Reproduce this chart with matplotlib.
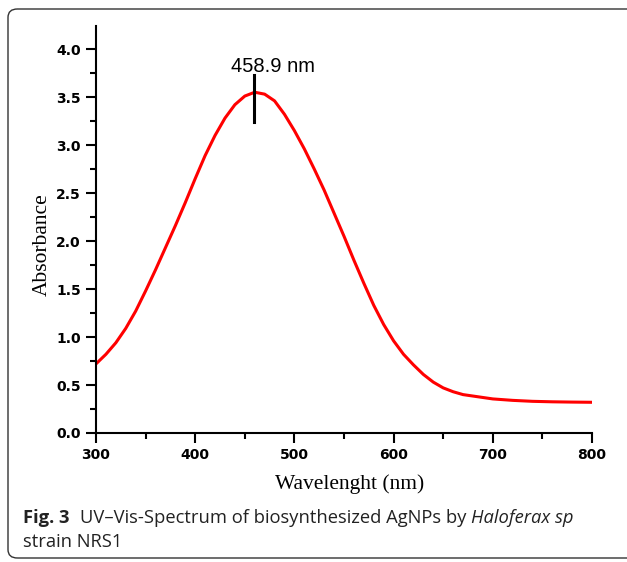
import matplotlib
matplotlib.use("Agg")
import matplotlib.pyplot as plt
from matplotlib.patches import FancyBboxPatch
from matplotlib.ticker import MultipleLocator

# ---- data ----
wavelength = [300, 310, 320, 330, 340, 350, 360, 370, 380, 390, 400, 410, 420,
              430, 440, 450, 460, 470, 480, 490, 500, 510, 520, 530, 540, 550,
              560, 570, 580, 590, 600, 610, 620, 630, 640, 650, 660, 670, 680,
              690, 700, 720, 740, 760, 780, 800]
absorbance = [0.72, 0.82, 0.94, 1.09, 1.27, 1.48, 1.70, 1.93, 2.16, 2.40, 2.65,
              2.89, 3.10, 3.28, 3.42, 3.51, 3.55, 3.53, 3.46, 3.32, 3.15, 2.96,
              2.75, 2.53, 2.29, 2.05, 1.80, 1.56, 1.33, 1.13, 0.96, 0.82, 0.71,
              0.61, 0.53, 0.47, 0.43, 0.40, 0.385, 0.37, 0.355, 0.34, 0.33,
              0.325, 0.322, 0.32]
peak_nm = 458.9
peak_label = "458.9 nm"
peak_marker_range = [3.24, 3.73]
x_ticks = [300, 400, 500, 600, 700, 800]
y_ticks = [0.0, 0.5, 1.0, 1.5, 2.0, 2.5, 3.0, 3.5, 4.0]

W, H = 627, 562
fig = plt.figure(figsize=(W / 100, H / 100), dpi=100)
ax = fig.add_axes([96 / W, 1 - 433 / H, (592 - 96) / W, (433 - 26) / H])

ax.plot(wavelength, absorbance, color="#ff0000", lw=2.2,
        solid_joinstyle="round", solid_capstyle="round")
ax.plot([peak_nm, peak_nm], peak_marker_range, color="black", lw=2.2)
ax.text(peak_nm + 20, 3.76, peak_label, ha="center",
        va="baseline", fontsize=14.5, family="Liberation Sans")

ax.set_xlim(300, 800)
ax.set_ylim(0, 4.24)
ax.set_xticks(x_ticks)
ax.set_yticks(y_ticks)
ax.set_yticklabels([f"{v:.1f}" for v in y_ticks])
ax.xaxis.set_minor_locator(MultipleLocator(50))
ax.yaxis.set_minor_locator(MultipleLocator(0.25))
for s in ["top", "right"]:
    ax.spines[s].set_visible(False)
for s in ["left", "bottom"]:
    ax.spines[s].set_linewidth(1.5)
ax.tick_params(which="major", direction="out", length=7, width=1.5,
               labelsize=10, pad=4)
ax.tick_params(which="minor", direction="out", length=4.5, width=1.5)
for lab in ax.get_xticklabels() + ax.get_yticklabels():
    lab.set_fontweight("bold")
    lab.set_family("DejaVu Sans")

ax.set_xlabel("Wavelenght (nm)", family="Liberation Serif", fontsize=15.5)
ax.set_ylabel("Absorbance", family="Liberation Serif", fontsize=15.5)
ax.xaxis.set_label_coords(0.512, -0.102)
ax.yaxis.set_label_coords(-0.09, 0.463)

# rounded frame around figure + caption
frame = FancyBboxPatch((8 / W, 1 - 558 / H), (640 - 8) / W, (558 - 9) / H,
                       boxstyle="round,pad=0,rounding_size=0.015",
                       transform=fig.transFigure, fill=False,
                       edgecolor="#333333", lw=1.0, clip_on=False)
fig.patches.append(frame)

# caption
cap_kw = dict(family="Open Sans", fontsize=13.2, color="#222222", va="baseline")
fig.canvas.draw()
r = fig.canvas.get_renderer()
x0 = 23 / W
y1 = 1 - 523 / H
t1 = fig.text(x0, y1, "Fig. 3", fontweight="bold", **cap_kw)
bb = t1.get_window_extent(r)
t2 = fig.text(bb.x1 / W + 10 / W, y1,
              "UV\u2013Vis-Spectrum of biosynthesized AgNPs by ", **cap_kw)
bb2 = t2.get_window_extent(r)
fig.text(bb2.x1 / W, y1, "Haloferax sp", style="italic", **cap_kw)
fig.text(x0, 1 - 547 / H, "strain NRS1", **cap_kw)

fig.savefig("out.png", dpi=100)
